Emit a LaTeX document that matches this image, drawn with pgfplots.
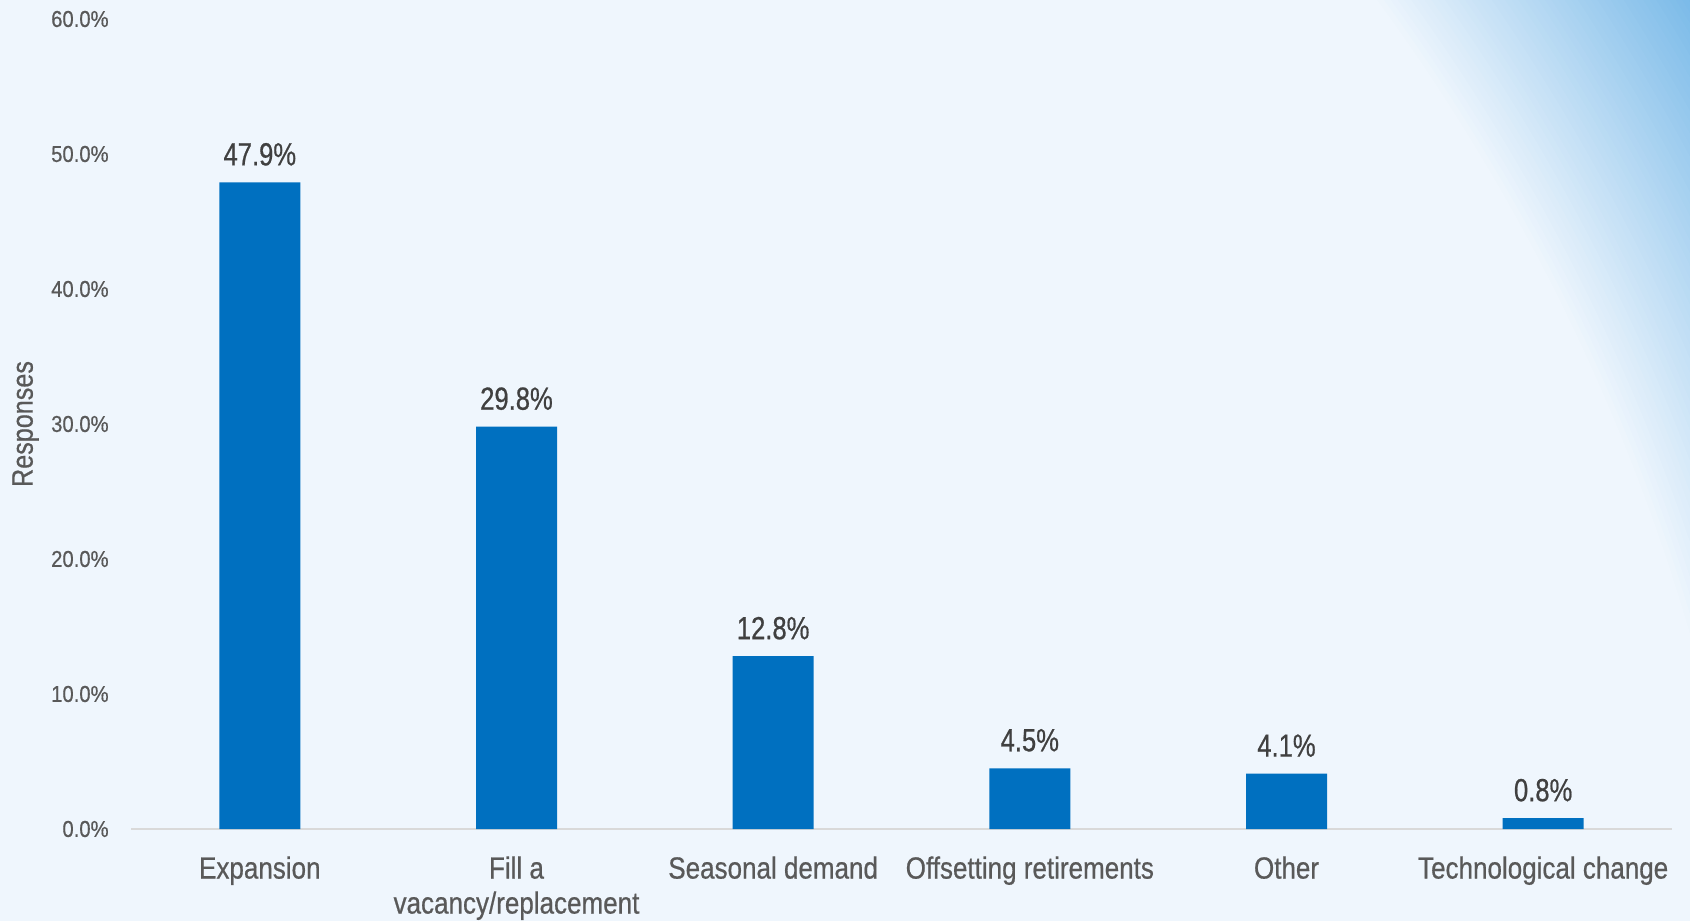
\documentclass[border=0pt]{standalone}
\usepackage{pgfplots}
\pgfplotsset{compat=1.18}
\usepackage{fontspec}
\setmainfont{Liberation Sans}
\newfontfamily\catfont[FakeStretch=0.85,FakeBold=0.6]{Liberation Sans}
\newfontfamily\valfont[FakeStretch=0.8,FakeBold=0.6]{Liberation Sans}
\newfontfamily\tickfont[FakeStretch=0.88,FakeBold=0.5]{Liberation Sans}
\definecolor{bg}{RGB}{239,246,253}
\definecolor{grad}{RGB}{122,186,232}
\definecolor{barblue}{HTML}{0070C0}
\definecolor{ticktxt}{HTML}{595959}
\definecolor{valtxt}{HTML}{404040}
\definecolor{axline}{HTML}{D9D9D9}
\begin{document}
\begin{tikzpicture}
\useasboundingbox (-65.75pt,-45.5pt) rectangle (779.25pt,414.5pt);
\begin{scope}
\clip (-65.75pt,-45.5pt) rectangle (779.25pt,414.5pt);
\fill[grad] (-65.75pt,-45.5pt) rectangle (779.25pt,414.5pt);
\foreach \i in {0,...,48} {
  \pgfmathsetmacro{\r}{1156-\i*2.75}
  \pgfmathsetmacro{\p}{100-\i*(100/48)}
  \fill[grad!\p!bg] (-203.75pt,-190pt) circle (\r pt);
}
\end{scope}
\begin{axis}[
  at={(0,0)}, anchor=south west,
  scale only axis, width=770pt, height=405pt,
  xmin=-0.5, xmax=5.5, ymin=0, ymax=60,
  axis x line*=bottom, axis y line*=left,
  x axis line style={draw=axline, line width=0.75pt, -},
  y axis line style={draw=none},
  tick style={draw=none},
  /pgf/number format/assume math mode=true,
  ytick={0,10,...,60},
  yticklabel={\pgfmathprintnumber[fixed,fixed zerofill,precision=1]{\tick}\%},
  yticklabel style={font=\tickfont\fontsize{11.5}{13}\selectfont, text=ticktxt, anchor=east, inner sep=0pt, xshift=-11.25pt},
  xtick={0,1,2,3,4,5},
  xticklabels={Expansion,{Fill a\\vacancy/replacement},Seasonal demand,Offsetting retirements,Other,Technological change},
  xticklabel style={align=center, font=\catfont\fontsize{15.3}{17.5}\selectfont, text=ticktxt, anchor=north, inner sep=0pt, yshift=-13.5pt},
  ylabel={Responses},
  every axis y label/.style={at={(axis description cs:-0.0688,0.5)}, rotate=90, anchor=center, font=\catfont\fontsize{14.8}{16}\selectfont, text=ticktxt},
]
\addplot[ybar, bar width=40.5pt, fill=barblue, draw=none,
  nodes near coords, point meta=explicit symbolic,
  nodes near coords style={font=\valfont\fontsize{16}{18}\selectfont, text=valtxt, anchor=base, inner sep=0pt, yshift=8.5pt}]
  coordinates {(0,47.9)[47.9\%] (1,29.8)[29.8\%] (2,12.8)[12.8\%] (3,4.5)[4.5\%] (4,4.1)[4.1\%] (5,0.8)[0.8\%]};
\end{axis}
\end{tikzpicture}
\end{document}
